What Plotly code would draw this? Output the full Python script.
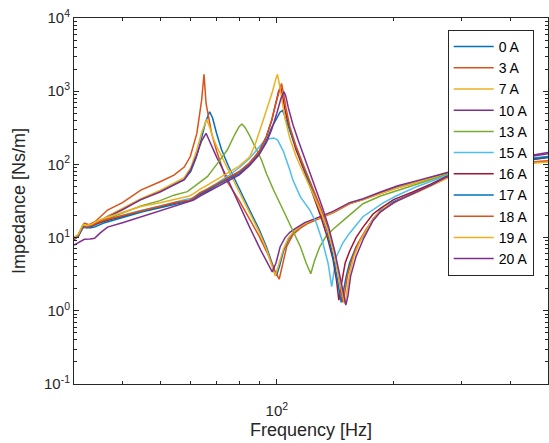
import numpy as np
import plotly.graph_objects as go

# ---------------- data (frequency in Hz, impedance in Ns/m) ----------------
F0 = [30, 30.8, 31.6, 32.4, 33.3, 34.5, 36.6, 40, 44.6, 50, 54.3, 57.7, 60, 62, 64, 65.5, 67.1, 68.3, 70, 72,
      75, 80, 85, 90, 94, 97, 99.8, 101.5, 104, 107, 110, 115, 120, 125, 130, 140, 154, 167, 185, 205,
      230, 273, 300, 350, 400, 450, 500]
Z0 = [10, 11, 14.5, 14, 14.5, 16, 19.5, 24.5, 33, 43, 53, 62, 80, 125, 230, 380, 524, 430, 260, 160,
      95, 48, 24, 13, 7.5, 4.6, 3.0, 4.0, 6.5, 9.3, 11.5, 14, 16, 17.5, 19, 22.5, 29.5, 33.5, 41, 49,
      58, 76, 85, 98, 110, 120, 128]

F3 = [30, 30.8, 31.9, 32.8, 34, 36.6, 40, 44.6, 50, 54.3, 57.7, 59.8, 62.2, 64, 64.9, 65.7, 67.9, 70, 74.2, 80,
      85, 90, 95, 98.5, 101.4, 103, 106, 110, 115, 120, 125, 130, 140, 154, 167, 185, 205, 230, 273, 300,
      350, 400, 450, 500]
Z3 = [9.3, 11, 15.7, 15, 16.5, 23.8, 30, 44.6, 58, 71.5, 92, 127, 265, 755, 1700, 680, 265, 150, 60, 32,
      18, 10.5, 5.8, 3.6, 2.7, 4.0, 7.5, 11, 13.5, 15.5, 17, 18.5, 22, 29, 33, 40, 48, 57, 74, 82,
      93, 102, 108, 112]

F7 = [30, 30.8, 31.7, 32.5, 33.5, 35, 36.6, 40, 44.6, 50, 54.3, 57.7, 60, 62, 64, 65.9, 67, 68.5, 70, 74,
      80, 85, 90, 94, 97, 99, 101, 104, 107, 110, 115, 120, 125, 130, 140, 154, 167, 185, 205, 230,
      273, 300, 350, 400, 450, 500]
Z7 = [9.6, 10.8, 14.3, 14, 14.8, 17, 19.5, 25, 34, 44, 55, 66, 90, 150, 270, 412, 330, 230, 175, 95,
      42, 22, 12, 7, 4.3, 3.0, 4.2, 7, 9.8, 11.8, 14.2, 16.2, 17.8, 19, 22.5, 29.5, 33, 40, 48, 57,
      73, 81, 92, 100, 106, 110]

F10 = [30, 30.8, 31.7, 32.5, 33.5, 35, 36.6, 40, 44.6, 50, 54.3, 57.7, 60, 62, 64, 65.7, 67, 68.5, 70, 74,
       80.2, 85, 90.8, 94, 97.3, 99.5, 102, 105, 108, 112, 118, 125, 130, 140, 154, 167, 185, 205, 230, 273,
       300, 350, 400, 450, 500]
Z10 = [9.4, 10.5, 13.8, 13.5, 14.5, 16.5, 19, 24, 33, 42, 52, 62, 85, 130, 210, 266, 210, 160, 125, 70,
       26.6, 14, 6.8, 4.8, 3.4, 4.5, 7.5, 10, 11.8, 13.5, 16, 18, 19.5, 23, 30, 34, 42, 51, 60, 78,
       88, 102, 116, 128, 140]

F13 = [30, 30.8, 31.8, 32.6, 33.6, 35, 36.6, 40, 44.6, 50, 54.3, 58.8, 62, 66.2, 70, 74.5, 78, 80, 81.3, 82.8,
       85, 88, 91.3, 94, 98, 103.8, 110, 115, 119, 122.3, 125, 129, 134, 139.6, 150, 166.7, 185, 207, 240, 273,
       300, 350, 400, 450, 500]
Z13 = [9.8, 11, 14.5, 14, 14.8, 16.5, 18, 21.5, 27, 32, 38, 42.4, 52, 68, 100, 157, 260, 330, 356, 320,
       250, 170, 115, 75, 45, 23.8, 12.7, 7.5, 4.5, 3.2, 4.8, 7.5, 10.5, 13, 18, 29, 37, 45, 58, 72,
       82, 96, 108, 118, 126]

F15 = [30, 30.8, 31.7, 32.5, 33.5, 35, 36.6, 40, 44.6, 50, 55, 58.5, 60.5, 63, 66, 70, 75, 80, 85, 89,
       92.2, 95, 98.2, 100.5, 104, 108, 110, 115, 121.6, 126.5, 131, 135.5, 138.5, 142.4, 148, 154, 166.7, 187.5, 203, 230,
       273, 300, 350, 400, 450, 500]
Z15 = [9.7, 10.8, 14, 13.6, 14.2, 15.8, 17.5, 20, 23.5, 27, 31, 33.5, 34.5, 40, 46, 55, 70, 90, 120, 160,
       200, 222, 230, 215, 150, 84, 61, 36, 23.8, 15.7, 9, 4.5, 2.14, 5.5, 8.5, 11.5, 19.3, 29.5, 37, 50,
       70, 80, 94, 106, 116, 124]

F16 = [30, 30.8, 31.6, 32.4, 33.3, 34.5, 36.6, 40, 44.6, 50, 55, 58.2, 59.5, 61, 63.4, 66.2, 70, 75, 80, 85,
       90, 94, 97, 99.5, 101, 102.2, 103.3, 105, 108, 112, 116, 120, 125, 130, 135, 139.6, 142.5, 144.5, 146.5, 150,
       154, 160, 167, 177, 185, 200, 224, 250, 273, 300, 350, 400, 450, 500]
Z16 = [9.6, 10.7, 14.3, 14, 14.3, 15.7, 17.2, 19.5, 22.8, 26.5, 30, 31.5, 32, 34.5, 40, 45, 53, 65, 79, 103,
       150, 240, 400, 700, 980, 1150, 900, 550, 300, 160, 100, 62, 34, 19, 10, 5, 2.6, 1.4, 2.2, 4.5,
       6.5, 10, 14, 21, 25, 33, 42, 54, 68, 78, 94, 106, 116, 124]

F17 = [30, 30.8, 31.5, 32.2, 33, 34, 36, 40, 45, 50, 55, 58, 59.5, 61, 63, 66, 70, 75, 80, 85,
       90, 94, 97, 100, 102, 103.4, 104.5, 106, 108, 112, 116, 120, 125, 130, 135, 139.6, 143, 145, 146.5, 148,
       151, 154, 160, 167, 177, 185, 200, 224, 250, 273, 300, 350, 400, 450, 500]
Z17 = [9.5, 10.5, 13.5, 14.5, 13.5, 14, 16, 19, 22.5, 25.5, 29, 31, 31.5, 33.5, 38, 43, 52, 63, 75, 100,
       140, 210, 320, 430, 520, 545, 480, 380, 290, 170, 105, 65, 38, 22, 12, 5.5, 2.8, 1.7, 1.3, 1.7,
       3, 4.5, 7.5, 10.5, 18, 23.5, 31, 40, 52, 66, 77, 93, 106, 118, 126]

F18 = [30, 30.8, 31.6, 32.4, 33.3, 34.5, 36.6, 40, 44.6, 50, 55, 58.2, 59.5, 61, 63.4, 66.2, 70, 75, 80, 85,
       90, 94, 97, 99.5, 101.5, 102.8, 104, 105.5, 108, 112, 116, 120, 125, 130, 135, 140, 144, 146.5, 148, 149.5,
       152, 156, 162, 170, 180, 190, 205, 230, 273, 300, 350, 400, 450, 500]
Z18 = [9.7, 10.9, 14.6, 14.2, 14.6, 16, 17.8, 20, 23.5, 27, 30.5, 32, 32.5, 35, 41, 46, 54, 66, 80, 105,
       150, 240, 400, 700, 1050, 1280, 950, 600, 330, 180, 110, 70, 42, 25, 14, 7, 3.2, 1.8, 1.3, 1.7,
       3, 5, 8.5, 13, 20, 25, 32, 42, 64, 75, 90, 100, 106, 110]

F19 = [30, 30.8, 31.6, 32.4, 33.3, 34.5, 36.6, 40, 44.6, 50, 54.3, 57.7, 59.5, 61, 63.4, 66.2, 70, 75, 80, 85.2,
       88, 92.2, 95, 97.5, 99.3, 100.4, 101.5, 103, 105, 108, 112, 116, 120, 125, 130, 135, 140, 145, 148, 149.5,
       151, 154, 158, 164, 172, 180, 190, 205, 230, 273, 300, 350, 400, 450, 500]
Z19 = [9.9, 11.2, 15, 14.6, 15.2, 17, 19, 22, 26.6, 30, 33.5, 36, 37, 40, 46, 52, 62, 76, 95, 127,
       190, 402, 650, 1000, 1450, 1700, 1250, 750, 420, 230, 130, 85, 58, 36, 22, 13, 6.5, 2.6, 1.5, 1.25,
       1.6, 3.2, 5.5, 9, 14, 20, 26, 32, 42, 64, 74, 88, 98, 104, 108]

F20 = [30, 31, 31.9, 33, 33.9, 35, 36.6, 40, 44.6, 50, 54, 57.7, 59.5, 61, 63.4, 66.2, 70, 75, 80, 85,
       90, 94, 97, 100, 102.5, 104.4, 105.5, 107, 110, 114, 118, 122, 126.5, 131, 136, 141, 145, 148, 150.6, 152.5,
       155, 160, 167, 177, 185, 200, 224, 250, 273, 300, 350, 400, 450, 500]
Z20 = [7.9, 8.8, 9.5, 9.6, 9.8, 11.5, 13.9, 16, 19.3, 23, 26.5, 29.5, 31, 32.5, 37, 42, 50, 60, 72, 96,
       135, 200, 300, 500, 800, 980, 850, 600, 350, 200, 120, 75, 45, 26, 14, 6.5, 3.2, 1.8, 1.2, 1.6,
       3, 5.5, 9.5, 17, 22.5, 30, 40, 52, 67, 80, 100, 118, 132, 145]

labels = ["0 A", "3 A", "7 A", "10 A", "13 A", "15 A", "16 A", "17 A", "18 A", "19 A", "20 A"]
freqs = [F0, F3, F7, F10, F13, F15, F16, F17, F18, F19, F20]
imps = [Z0, Z3, Z7, Z10, Z13, Z15, Z16, Z17, Z18, Z19, Z20]
colors = ["#0072BD", "#D95319", "#EDB120", "#7E2F8E", "#77AC30", "#4DBEEE", "#A2142F",
          "#0072BD", "#D95319", "#EDB120", "#7E2F8E"]

x_tick_vals = [100]
x_tick_text = ["10<sup>2</sup>"]
x_minor_vals = [40, 50, 60, 70, 80, 90, 200, 300, 400]
y_tick_vals = [0.1, 1, 10, 100, 1000, 10000]
y_tick_text = ["10<sup>-1</sup>", "10<sup>0</sup>", "10<sup>1</sup>", "10<sup>2</sup>", "10<sup>3</sup>", "10<sup>4</sup>"]
y_minor_vals = [m * 10.0 ** e for e in range(-1, 4) for m in range(2, 10)]

# ---------------- figure ----------------
fig = go.Figure()
for lab, f, z, c in zip(labels, freqs, imps, colors):
    assert len(f) == len(z), lab
    fig.add_trace(go.Scatter(x=f, y=z, mode="lines", name=lab,
                             line=dict(color=c, width=1.5)))

axc = "#262626"
common = dict(showgrid=False, zeroline=False, showline=True, linecolor=axc, linewidth=1,
              mirror="allticks", ticks="inside", ticklen=5, tickwidth=1, tickcolor=axc,
              tickfont=dict(size=15, color=axc))

fig.update_xaxes(type="log", range=[np.log10(30), np.log10(500)], tickmode="array",
                 tickvals=x_tick_vals, ticktext=x_tick_text, ticklabelstandoff=13,
                 minor=dict(tickmode="array", tickvals=x_minor_vals, ticks="inside", ticklen=3, tickcolor=axc),
                 title=dict(text="Frequency [Hz]", font=dict(size=18, color=axc), standoff=5),
                 **common)
fig.update_yaxes(type="log", range=[-1, 4], tickmode="array",
                 tickvals=y_tick_vals, ticktext=y_tick_text,
                 minor=dict(tickmode="array", tickvals=y_minor_vals, ticks="inside", ticklen=3, tickcolor=axc),
                 title=dict(text="Impedance [Ns/m]", font=dict(size=18, color=axc), standoff=13),
                 **common)

fig.update_layout(
    width=549, height=443,
    margin=dict(l=74, r=1, t=18, b=59),
    paper_bgcolor="white", plot_bgcolor="white",
    font=dict(family="Liberation Sans, Arial, sans-serif", color=axc),
    legend=dict(x=(447.7 - 74) / 474, y=(384 - 30) / 366, xanchor="left", yanchor="top",
                bgcolor="white", bordercolor=axc, borderwidth=1,
                font=dict(size=14, color="black"), itemwidth=40),
    showlegend=True,
)

fig.write_html("out.html")
